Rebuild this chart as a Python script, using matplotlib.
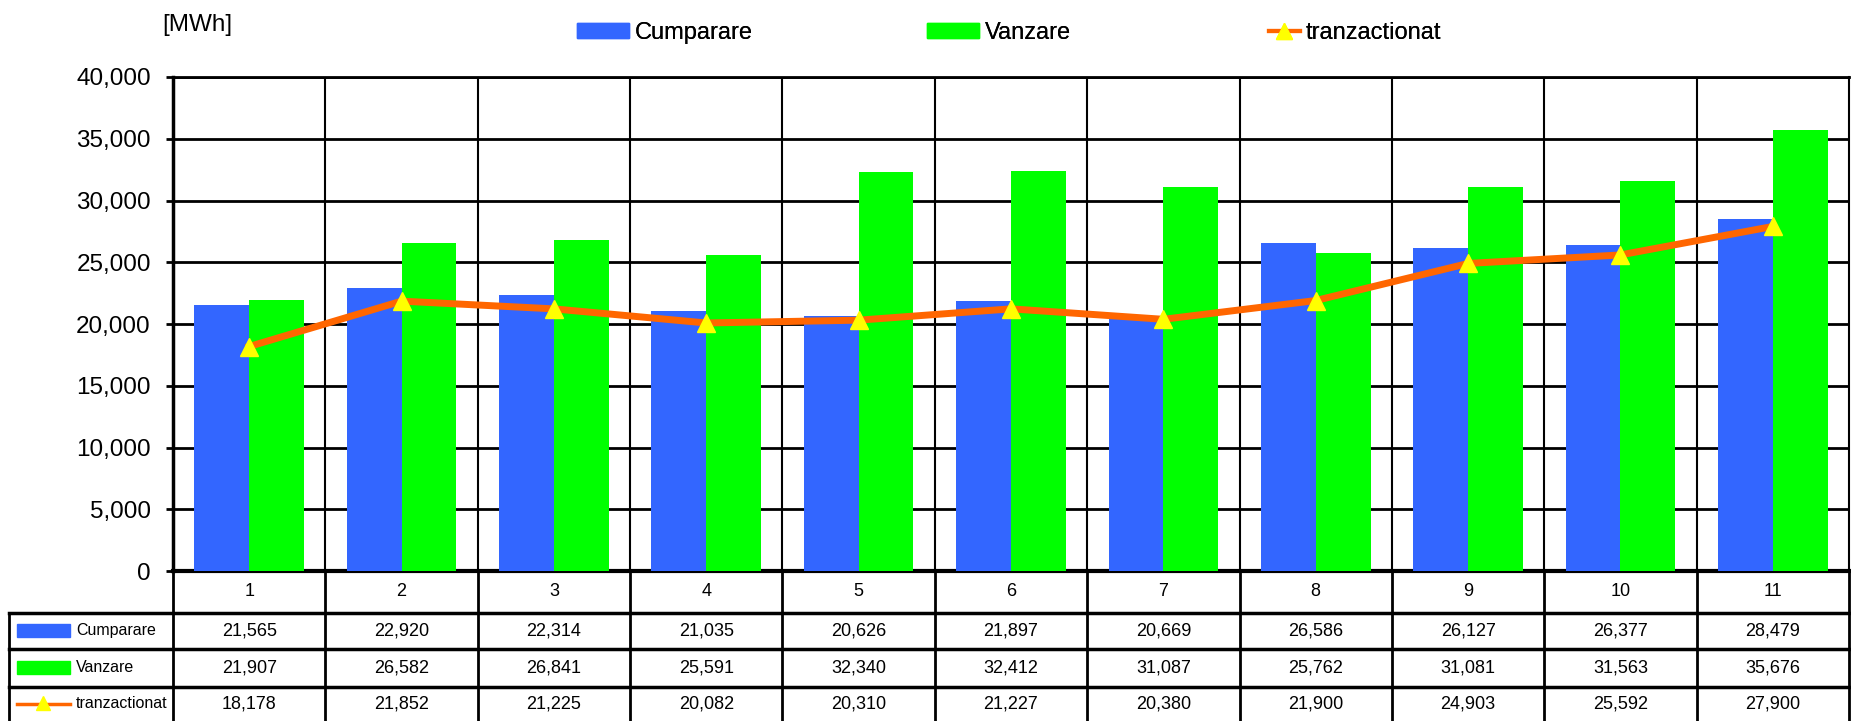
import numpy as np
import matplotlib.pyplot as plt
from matplotlib.patches import Patch, Rectangle
from matplotlib.lines import Line2D

plt.rcParams['font.family'] = ['Liberation Sans', 'DejaVu Sans']

# date
ore = ['1', '2', '3', '4', '5', '6', '7', '8', '9', '10', '11']
cumparare = [21565, 22920, 22314, 21035, 20626, 21897, 20669, 26586, 26127, 26377, 28479]
vanzare = [21907, 26582, 26841, 25591, 32340, 32412, 31087, 25762, 31081, 31563, 35676]
tranzactionat = [18178, 21852, 21225, 20082, 20310, 21227, 20380, 21900, 24903, 25592, 27900]
serii = ['Cumparare', 'Vanzare', 'tranzactionat']
y_ticks = [0, 5000, 10000, 15000, 20000, 25000, 30000, 35000, 40000]

c_blue = '#3366FF'
c_green = '#00FF00'
c_orange = '#FF6600'
c_yellow = '#FFFF00'

W, H = 1851, 721


def px(l, t, r, b):
    # pozitie in pixeli -> coordonate figura
    return [l / W, 1 - b / H, (r - l) / W, (b - t) / H]


fig = plt.figure(figsize=(W / 100, H / 100), dpi=100)

# grafic principal
ax = fig.add_axes(px(173, 77, 1849, 571))
x = np.arange(len(ore))
bw = 0.36
ax.bar(x - bw / 2, cumparare, bw, color=c_blue, zorder=3)
ax.bar(x + bw / 2, vanzare, bw, color=c_green, zorder=3)
ax.plot(x, tranzactionat, color=c_orange, lw=5, marker='^', ms=13,
        mfc=c_yellow, mec=c_yellow, zorder=4)

ax.set_xlim(-0.5, len(ore) - 0.5)
ax.set_ylim(0, 40000)
ax.set_yticks(y_ticks)
ax.set_yticklabels([f'{v:,}' for v in y_ticks], fontsize=17.5)
ax.set_xticks([])
ax.tick_params(axis='y', length=5, width=2, pad=11)
ax.set_axisbelow(True)
ax.yaxis.grid(True, color='black', lw=2)
for b in np.arange(0.5, len(ore) - 0.5):
    ax.axvline(b, color='black', lw=1.5, zorder=1)
ax.spines['left'].set_linewidth(2.5)
ax.spines['bottom'].set_linewidth(3)
ax.spines['top'].set_linewidth(2)
ax.spines['right'].set_linewidth(1.5)

fig.text(162 / W, 1 - 25 / H, '[MWh]', fontsize=17.5, va='center', ha='left')

# legenda sus, fiecare element separat
handles = [Patch(color=c_blue), Patch(color=c_green),
           Line2D([], [], color=c_orange, lw=3, marker='^', ms=12,
                  mfc=c_yellow, mec=c_yellow)]
leg_x = [577, 927, 1269]
leg_len = [2.2, 2.2, 1.3]
for h, s, lx, hl in zip(handles, serii, leg_x, leg_len):
    lg = fig.legend([h], [s], loc='center left', bbox_to_anchor=(lx / W, 1 - 33 / H),
                    frameon=False, fontsize=17, handlelength=hl, handleheight=0.6,
                    handletextpad=0.25, borderpad=0, borderaxespad=0)
    fig.add_artist(lg)

# tabel de date
cw = 152.4  # latime coloana in pixeli
lab_w = 164 / cw
x_left = -0.5 - lab_w
tx = fig.add_axes(px(9, 571, 1849, 721))
tx.set_xlim(x_left, len(ore) - 0.5)
tx.set_ylim(150, 0)
tx.axis('off')

rows = [42, 78, 116, 150]
for b in np.arange(-0.5, len(ore)):
    tx.plot([b, b], [0, 150], color='black', lw=2, clip_on=False)
tx.plot([x_left, x_left], [42, 150], color='black', lw=2, clip_on=False)
for r in rows[:-1]:
    tx.plot([x_left, len(ore) - 0.5], [r, r], color='black', lw=2.5, clip_on=False)

for i, o in enumerate(ore):
    tx.text(i, 21, o, ha='center', va='center', fontsize=13)

valori = [cumparare, vanzare, tranzactionat]
for k, serie in enumerate(valori):
    yc = (rows[k] + rows[k + 1]) / 2
    for i, v in enumerate(serie):
        tx.text(i, yc, f'{v:,}', ha='center', va='center', fontsize=13)
    kx0 = x_left + 8 / cw
    kx1 = x_left + 61 / cw
    if k < 2:
        tx.add_patch(Rectangle((kx0, yc - 7), kx1 - kx0, 13,
                               color=[c_blue, c_green][k], clip_on=False))
    else:
        tx.plot([kx0, kx1], [yc, yc], color=c_orange, lw=2.5, clip_on=False)
        tx.plot([(kx0 + kx1) / 2], [yc - 1], marker='^', ms=10,
                mfc=c_yellow, mec=c_yellow, clip_on=False)
    tx.text(x_left + 67 / cw, yc, serii[k], ha='left', va='center', fontsize=11.5)

fig.savefig('out.png', dpi=100)
